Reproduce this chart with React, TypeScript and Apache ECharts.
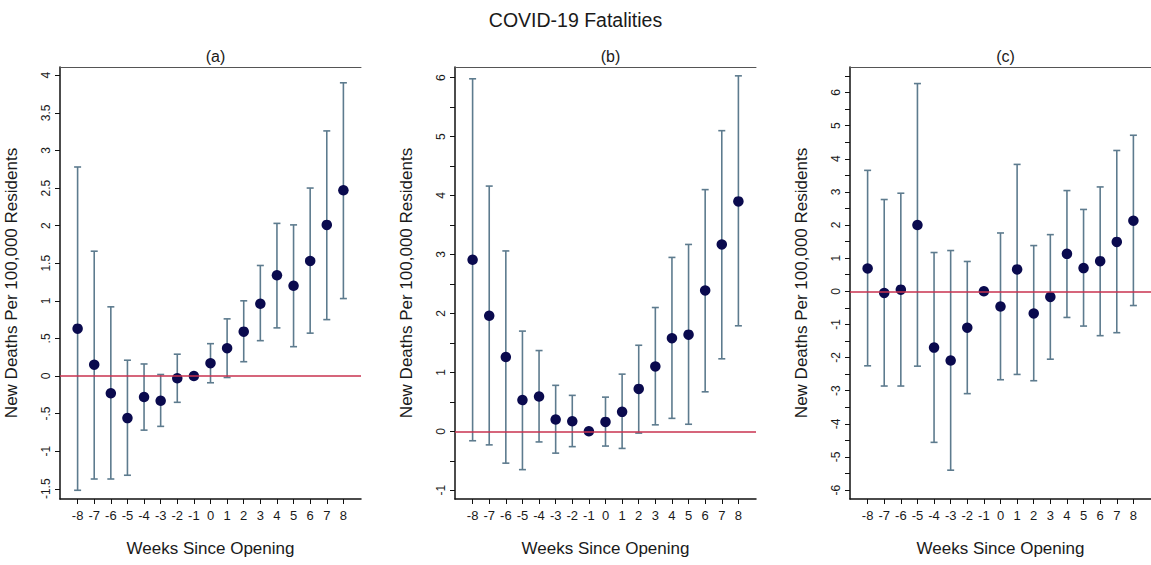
import React, { useEffect, useRef } from "react";
import * as echarts from "echarts";

const weeks = [-8, -7, -6, -5, -4, -3, -2, -1, 0, 1, 2, 3, 4, 5, 6, 7, 8];

// Panel (a)
const estA = [0.63, 0.15, -0.23, -0.56, -0.28, -0.33, -0.03, 0, 0.17, 0.37, 0.59, 0.96, 1.34, 1.2, 1.53, 2.01, 2.47];
const lowA = [-1.52, -1.37, -1.37, -1.32, -0.72, -0.67, -0.35, null, -0.09, -0.02, 0.19, 0.47, 0.64, 0.39, 0.57, 0.75, 1.03];
const highA = [2.78, 1.66, 0.92, 0.21, 0.16, 0.02, 0.29, null, 0.43, 0.76, 1.0, 1.47, 2.03, 2.01, 2.5, 3.26, 3.9];

// Panel (b)
const estB = [2.91, 1.96, 1.26, 0.53, 0.59, 0.2, 0.17, 0, 0.16, 0.33, 0.72, 1.1, 1.58, 1.64, 2.39, 3.17, 3.9];
const lowB = [-0.16, -0.23, -0.54, -0.65, -0.18, -0.37, -0.26, null, -0.25, -0.29, -0.03, 0.11, 0.22, 0.12, 0.67, 1.23, 1.79];
const highB = [5.98, 4.16, 3.06, 1.7, 1.37, 0.78, 0.61, null, 0.58, 0.97, 1.46, 2.1, 2.95, 3.17, 4.1, 5.1, 6.03];

// Panel (c)
const estC = [0.69, -0.05, 0.05, 2.0, -1.7, -2.09, -1.1, 0, -0.46, 0.66, -0.67, -0.17, 1.13, 0.7, 0.91, 1.49, 2.13];
const lowC = [-2.25, -2.86, -2.86, -2.26, -4.56, -5.4, -3.09, null, -2.67, -2.51, -2.7, -2.05, -0.79, -1.05, -1.34, -1.25, -0.43];
const highC = [3.65, 2.77, 2.96, 6.27, 1.17, 1.23, 0.9, null, 1.76, 3.83, 1.38, 1.71, 3.04, 2.47, 3.15, 4.25, 4.71];

// Y tick values and labels
const yTicksA = [-1.5, -1, -0.5, 0, 0.5, 1, 1.5, 2, 2.5, 3, 3.5, 4];
const yLabelsA = [-1.5, -1, -0.5, 0, 0.5, 1, 1.5, 2, 2.5, 3, 3.5, 4];
const yTicksB = [-1, -0.5, 0, 0.5, 1, 1.5, 2, 2.5, 3, 3.5, 4, 4.5, 5, 5.5, 6];
const yLabelsB = [-1, 0, 1, 2, 3, 4, 5, 6];
const yTicksC = [-6, -5.5, -5, -4.5, -4, -3.5, -3, -2.5, -2, -1.5, -1, -0.5, 0, 0.5, 1, 1.5, 2, 2.5, 3, 3.5, 4, 4.5, 5, 5.5, 6, 6.5];
const yLabelsC = [-6, -5, -4, -3, -2, -1, 0, 1, 2, 3, 4, 5, 6];

const FONT = "'Liberation Sans', Arial, Helvetica, sans-serif";
const TEXT = "#1a1a1a";
const DOT = "#0a0a4e";
const BAR = "#5d7b8e";
const REF = "#c8324f";

const fmt = (v: number) => String(v).replace(/^(-?)0\./, "$1.");

export default function App() {
  const ref = useRef<HTMLDivElement>(null);

  useEffect(() => {
    if (!ref.current) return;
    const chart = echarts.init(ref.current, undefined, { renderer: "svg" });

    const panels = [
      { est: estA, low: lowA, high: highA, ymin: -1.636, ymax: 4.11, ticks: yTicksA, labels: yLabelsA, left: 60, title: "(a)" },
      { est: estB, low: lowB, high: highB, ymin: -1.148, ymax: 6.18, ticks: yTicksB, labels: yLabelsB, left: 455, title: "(b)" },
      { est: estC, low: lowC, high: highC, ymin: -6.27, ymax: 6.77, ticks: yTicksC, labels: yLabelsC, left: 850, title: "(c)" },
    ];
    const gw = 301;
    const top = 67;
    const gh = 432;

    const grid: any[] = [];
    const xAxis: any[] = [];
    const yAxis: any[] = [];
    const series: any[] = [];
    const title: any[] = [
      {
        text: "COVID-19 Fatalities",
        left: "center",
        top: 5,
        textStyle: { fontFamily: FONT, fontSize: 19.5, fontWeight: "normal", color: TEXT },
      },
    ];

    panels.forEach((p, i) => {
      grid.push({ left: p.left, top, width: gw, height: gh, containLabel: false });
      title.push({
        text: p.title,
        left: p.left + gw / 2,
        textAlign: "center",
        top: 43,
        textStyle: { fontFamily: FONT, fontSize: 16, fontWeight: "normal", color: TEXT },
      });
      xAxis.push({
        type: "value",
        gridIndex: i,
        min: -9.06,
        max: 9.06,
        position: "bottom",
        name: "Weeks Since Opening",
        nameLocation: "middle",
        nameGap: 41,
        nameTextStyle: { fontFamily: FONT, fontSize: 17, color: TEXT },
        axisLine: { show: true, onZero: false, lineStyle: { color: "#111", width: 1.5 } },
        axisTick: { show: true, length: 5, customValues: weeks, lineStyle: { color: "#111", width: 1 } },
        axisLabel: { show: true, customValues: weeks, margin: 10, fontFamily: FONT, fontSize: 13, color: TEXT },
        splitLine: { show: false },
      });
      xAxis.push({
        type: "value",
        gridIndex: i,
        min: -9.06,
        max: 9.06,
        position: "top",
        axisLine: { show: true, onZero: false, lineStyle: { color: "#555", width: 1 } },
        axisTick: { show: false },
        axisLabel: { show: false },
        splitLine: { show: false },
      });
      yAxis.push({
        type: "value",
        gridIndex: i,
        min: p.ymin,
        max: p.ymax,
        name: "New Deaths Per 100,000 Residents",
        nameLocation: "middle",
        nameGap: 40,
        nameTextStyle: { fontFamily: FONT, fontSize: 17, color: TEXT },
        axisLine: { show: true, onZero: false, lineStyle: { color: "#111", width: 1.5 } },
        axisTick: { show: true, length: 5, customValues: p.ticks, lineStyle: { color: "#111", width: 1 } },
        axisLabel: {
          show: true,
          customValues: p.labels,
          rotate: 90,
          margin: 8,
          formatter: (v: number) => fmt(v),
          fontFamily: FONT,
          fontSize: 12,
          color: TEXT,
        },
        splitLine: { show: false },
      });

      const barData = weeks
        .map((w, k) => [w, p.low[k], p.high[k]])
        .filter((d) => d[1] !== null && d[2] !== null);

      series.push({
        type: "custom",
        xAxisIndex: i * 2,
        yAxisIndex: i,
        z: 2,
        data: barData,
        renderItem: (params: any, api: any) => {
          const x = api.value(0);
          const lo = api.coord([x, api.value(1)]);
          const hi = api.coord([x, api.value(2)]);
          const hw = 3.5;
          const style = { stroke: BAR, lineWidth: 1.6, fill: "none" };
          return {
            type: "group",
            children: [
              { type: "line", shape: { x1: lo[0], y1: lo[1], x2: hi[0], y2: hi[1] }, style },
              { type: "line", shape: { x1: hi[0] - hw, y1: hi[1], x2: hi[0] + hw, y2: hi[1] }, style },
              { type: "line", shape: { x1: lo[0] - hw, y1: lo[1], x2: lo[0] + hw, y2: lo[1] }, style },
            ],
          };
        },
        markLine: {
          silent: true,
          symbol: "none",
          label: { show: false },
          lineStyle: { color: REF, width: 1.5, type: "solid" },
          data: [{ yAxis: 0 }],
        },
      });
      series.push({
        type: "scatter",
        xAxisIndex: i * 2,
        yAxisIndex: i,
        z: 3,
        symbol: "circle",
        symbolSize: 10.5,
        itemStyle: { color: DOT, opacity: 1 },
        data: weeks.map((w, k) => [w, p.est[k]]),
      });
    });

    chart.setOption({
      animation: false,
      backgroundColor: "#ffffff",
      title,
      grid,
      xAxis,
      yAxis,
      series,
    });

    return () => chart.dispose();
  }, []);

  return (
    <div
      ref={ref}
      style={{ position: "fixed", left: 0, top: 0, width: 1151, height: 565, background: "#fff" }}
    />
  );
}
